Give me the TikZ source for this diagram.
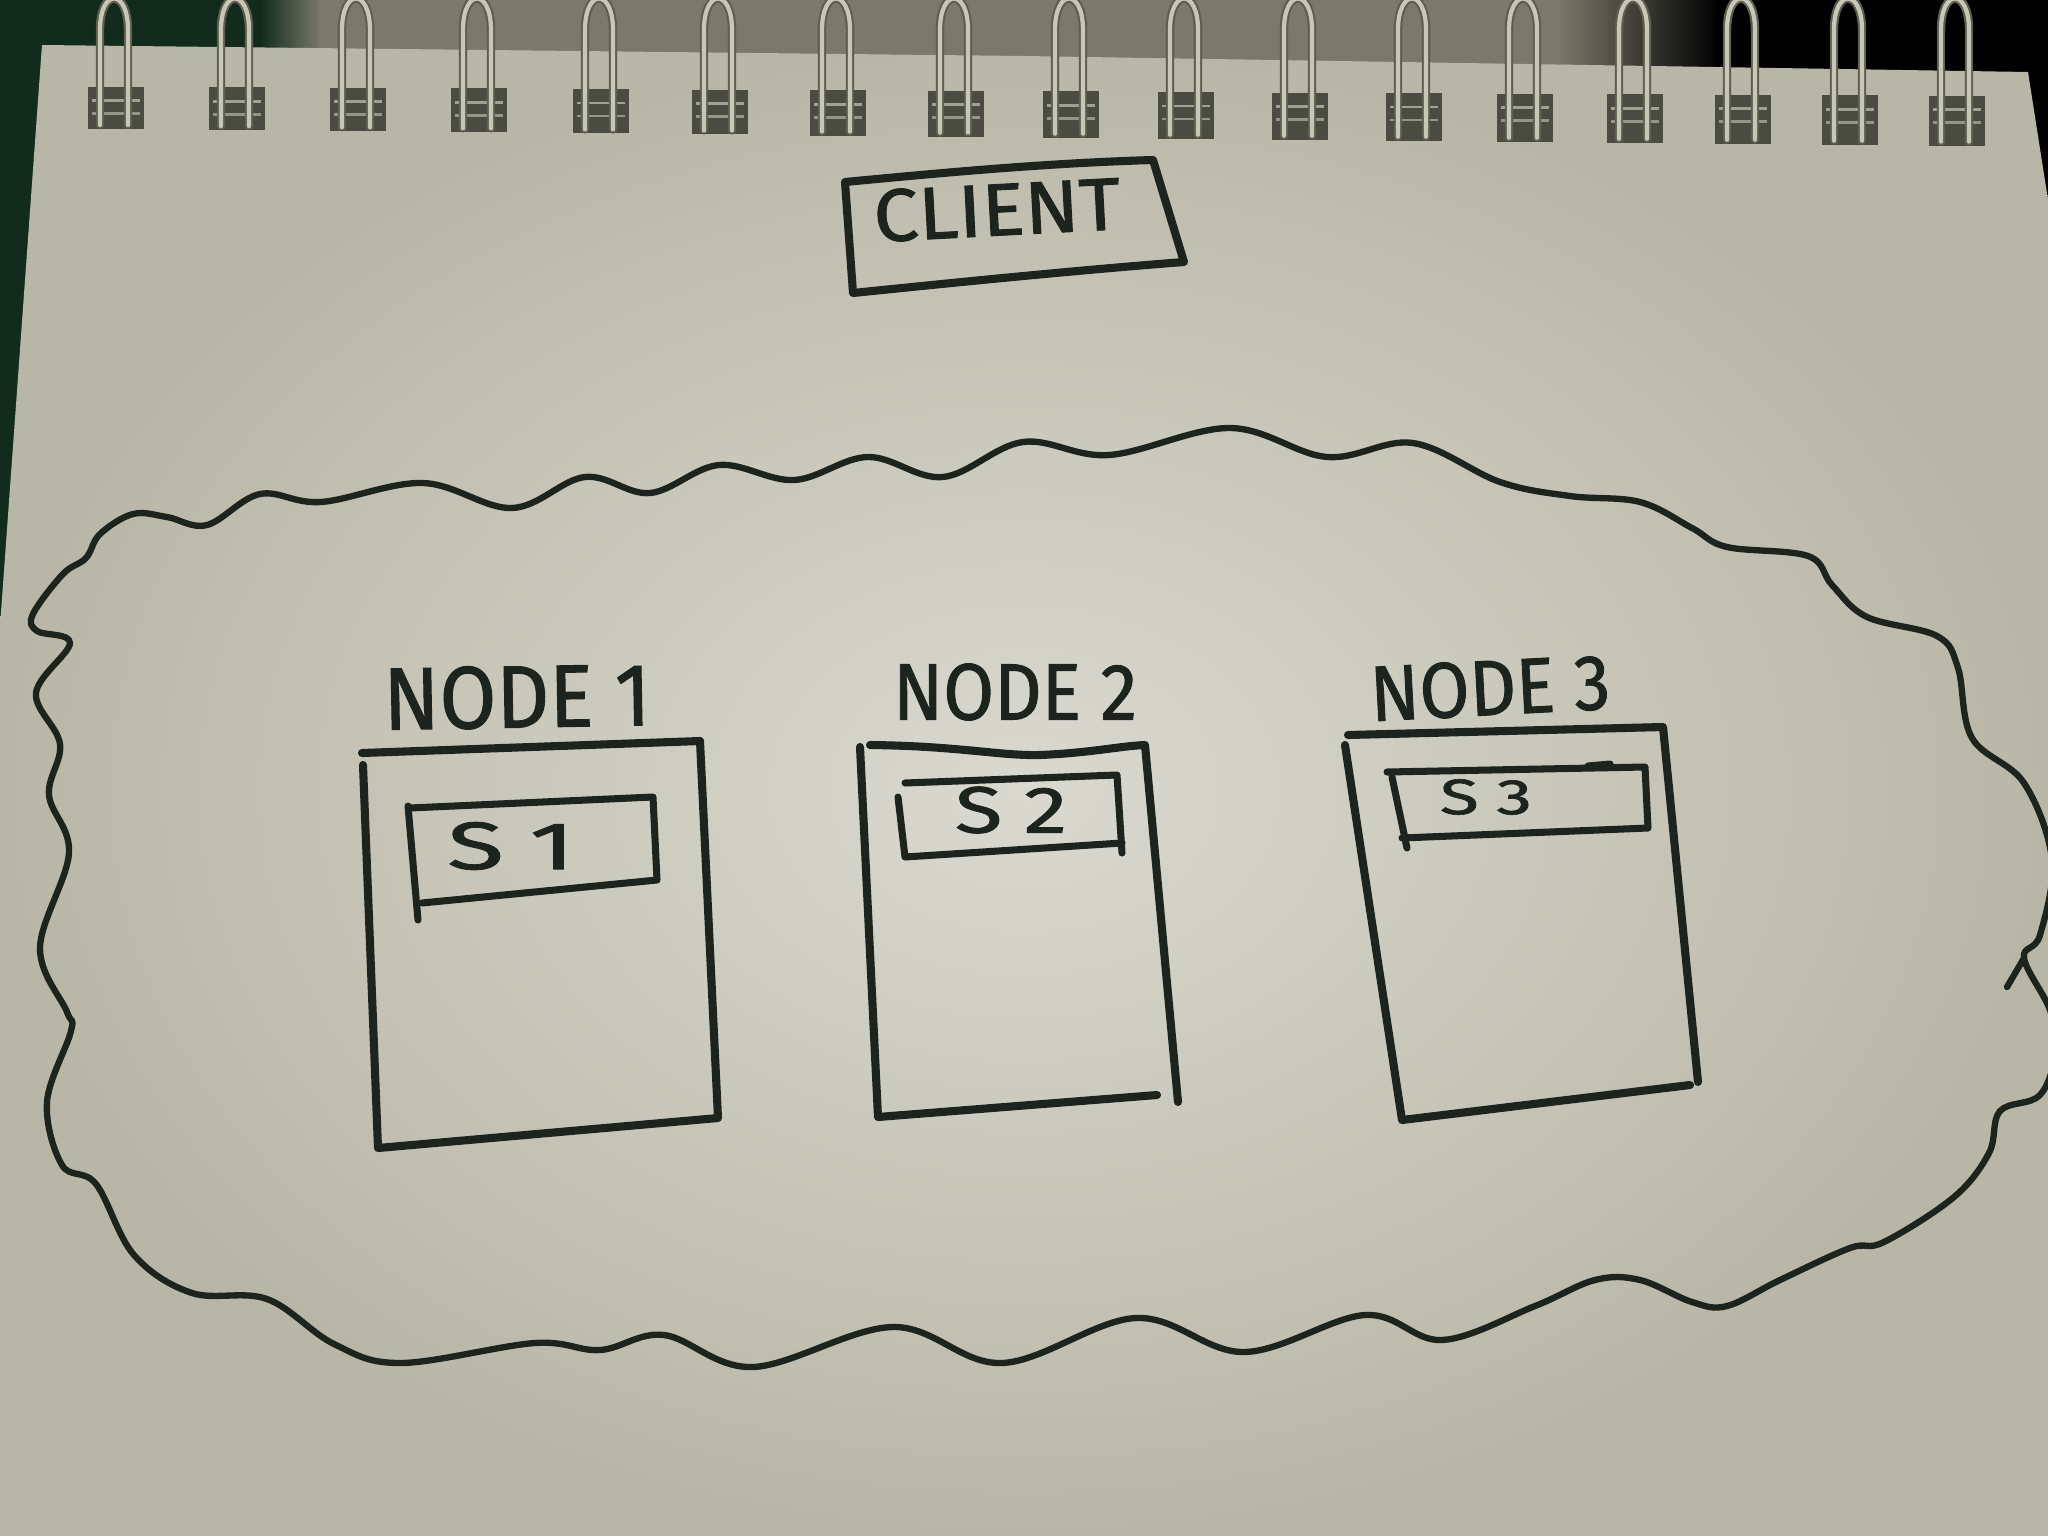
\documentclass[tikz,border=0pt]{standalone}
\usepackage{fontspec}
\setmainfont{Fira Sans}
\newfontfamily\handfont{Fira Sans}[FakeBold=1.2]
\usepackage{graphicx}
\definecolor{ink}{HTML}{1C241D}
\definecolor{bgdark}{HTML}{0E1A12}
\definecolor{bggreen}{HTML}{112B1C}
\definecolor{stripgray}{HTML}{7A796A}
\definecolor{paperhi}{HTML}{DAD9D0}
\definecolor{paperlo}{HTML}{B8B7A7}
\definecolor{slotcol}{HTML}{4A4C41}
\definecolor{wireedge}{HTML}{5E5E50}
\definecolor{wirecol}{HTML}{C8C7B7}
\newcommand{\hw}[3]{\resizebox{#1mm}{#2mm}{\handfont #3}}
\tikzset{
  inkline/.style={draw=ink, line width=2.3pt, line cap=round, line join=round},
  thinink/.style={draw=ink, line width=2.0pt, line cap=round, line join=round},
  cloudline/.style={draw=ink, line width=1.8pt, line cap=round, line join=round},
  hand/.style={inner sep=0pt, outer sep=0pt, text=ink, anchor=center},
  wireout/.style={draw=wireedge, line width=2.4pt, line cap=round},
  wirein/.style={draw=wirecol, line width=1.2pt, line cap=round},
}
\begin{document}
\begin{tikzpicture}[x=0.01cm, y=-0.01cm]
\useasboundingbox (0,0) rectangle (2048,1536);
\clip (0,0) rectangle (2048,1536);
% background
\fill[bgdark] (0,0) rectangle (2048,1536);
\fill[bggreen] (0,0) rectangle (270,640);
\shade[left color=bggreen, right color=stripgray] (260,0) rectangle (320,90);
\fill[stripgray] (318,0) rectangle (1560,90);
\shade[left color=stripgray, right color=black] (1558,0) rectangle (1720,90);
\fill[black] (1718,0) rectangle (2048,230);
% paper
\shade[inner color=paperhi, outer color=paperlo]
  (42,45) -- (1024,56) -- (2028,72) -- (2048,200) -- (2048,1536) -- (0,1536) -- (0,626) -- cycle;
% spiral binding
\foreach \xc in {116,237,358,479,601,720,838,956,1071,1186,1300,1414,1525,1635,1743,1850,1957}{
  \pgfmathsetmacro{\yt}{86+0.005*\xc}
  \pgfmathsetmacro{\yb}{128+0.009*\xc}
  \fill[slotcol] (\xc-28,\yt) rectangle (\xc+28,\yb);
  \draw[wirecol!70!slotcol, line width=0.8pt] (\xc-24,\yt+14) -- (\xc+24,\yt+14);
  \draw[wirecol!60!slotcol, line width=0.8pt] (\xc-24,\yt+27) -- (\xc+24,\yt+27);
  \draw[wireout] (\xc-16,\yb-4) -- (\xc-16,30) .. controls (\xc-16,-12) and (\xc+12,-12) .. (\xc+12,30) -- (\xc+12,\yb-4);
  \draw[wirein] (\xc-16,\yb-4) -- (\xc-16,30) .. controls (\xc-16,-12) and (\xc+12,-12) .. (\xc+12,30) -- (\xc+12,\yb-4);
}
% cloud
\draw[cloudline] plot[smooth cycle, tension=0.6] coordinates {
  (63,574) (86,558) (100,534) (133,514) (167,517) (207,525) (260,494) (321,502)
  (423,483) (512,508) (585,477) (650,493) (719,465) (794,480) (868,457) (943,477)
  (1023,442) (1109,455) (1230,428) (1327,457) (1413,443) (1500,482) (1570,496)
  (1640,502) (1692,528) (1727,547) (1808,556) (1832,585) (1867,617) (1937,636)
  (1958,668) (1972,738) (2024,783) (2052,860) (2040,935) (2024,958) (2050,1010)
  (2056,1050) (2040,1095) (2000,1111) (1989,1153) (1954,1197) (1884,1242)
  (1850,1248) (1780,1280) (1727,1306) (1692,1302) (1640,1280) (1595,1280)
  (1535,1306) (1442,1340) (1365,1315) (1244,1352) (1136,1318) (1002,1363)
  (893,1327) (753,1367) (664,1335) (600,1350) (535,1343) (401,1363) (334,1344)
  (267,1299) (192,1293) (134,1255) (96,1184) (62,1165) (47,1102) (71,1031)
  (67,1012) (40,948) (69,853) (49,795) (60,744) (36,693) (70,643) (37,631) (33,614)
};
\coordinate (hookA) at (2024,958);
\coordinate (hookB) at (2007,987);
\draw[cloudline] (hookA) -- (hookB);
% client box
\draw[inkline] (845,182) .. controls (950,172) and (1050,163) .. (1153,160) -- (1184,262)
  .. controls (1080,270) and (960,282) .. (853,293) -- cycle;
\node[hand, rotate=3] (client) at (997,210) {\hw{24.7}{5.2}{CLIENT}};
% node 1
\draw[inkline] (362,753) -- (700,741);
\draw[inkline] (363,765) -- (378,1148) -- (718,1118) -- (700,741);
\draw[thinink] (408,806) -- (418,920);
\draw[thinink] (410,808) -- (653,797) -- (657,880) -- (422,903);
\node[hand, rotate=1] (n1label) at (517,697) {\hw{26.7}{6.2}{NODE 1}};
\node[hand] (s1) at (511,846) {\hw{12.7}{4.7}{S\hspace{0.25em}1}};
% node 2
\draw[inkline] (870,745) .. controls (960,746) and (1000,756) .. (1040,755) .. controls (1090,753) and (1120,746) .. (1145,745) -- (1178,1102);
\draw[inkline] (1157,1095) -- (878,1117) -- (860,747);
\draw[thinink] (898,797) -- (905,857) -- (1122,843);
\draw[thinink] (905,783) -- (1117,775) -- (1122,853);
\node[hand] (n2label) at (1015,692) {\hw{24.4}{5.6}{NODE 2}};
\node[hand] (s2) at (1011,810) {\hw{11.2}{4.6}{S\hspace{0.25em}2}};
% node 3
\draw[inkline] (1348,735) -- (1663,727) -- (1698,1082);
\draw[inkline] (1690,1085) -- (1402,1120) -- (1345,745);
\draw[thinink] (1387,772) -- (1645,767) -- (1648,828) -- (1402,838);
\draw[thinink] (1392,777) -- (1407,848);
\draw[thinink] (1588,766) -- (1610,764);
\node[hand, rotate=3] (n3label) at (1490,688) {\hw{24.0}{5.5}{NODE 3}};
\node[hand] (s3) at (1486,797) {\hw{9.2}{3.5}{S\hspace{0.25em}3}};
\end{tikzpicture}
\end{document}
